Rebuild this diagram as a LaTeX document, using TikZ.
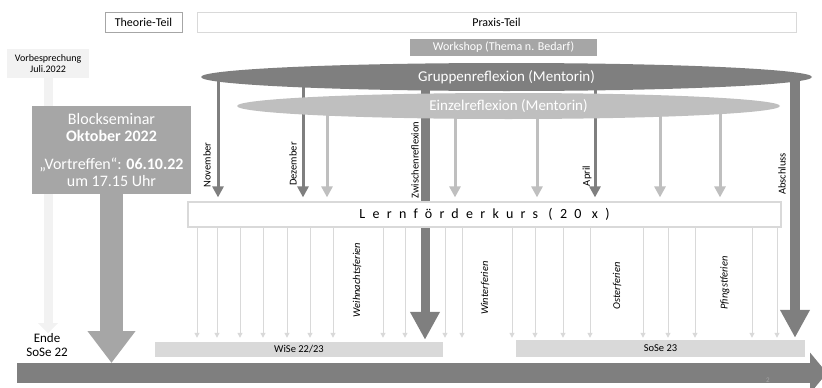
\documentclass[tikz,border=0pt]{standalone}
\usepackage{fontspec}
\setmainfont{Carlito}
\usetikzlibrary{arrows.meta,shapes.geometric,backgrounds}
\definecolor{dgrau}{HTML}{7F7F7F}
\definecolor{mgrau}{HTML}{A6A6A6}
\definecolor{lgrau}{HTML}{BFBFBF}
\definecolor{hgrau}{HTML}{D9D9D9}
\definecolor{xgrau}{HTML}{F2F2F2}
\begin{document}
\begin{tikzpicture}[x=1pt,y=-1pt,
        kasten/.style={fill=white,minimum height=20pt,inner sep=0pt,font=\fontsize{12}{12}\selectfont},
        balken/.style={fill=hgrau,inner sep=0pt,font=\fontsize{10.5}{10.5}\selectfont},
        pfeil/.style={line width=3pt,shorten >=4pt,-{Triangle[length=11pt,width=11pt]}},
        duenn/.style={draw=hgrau,line width=1pt,shorten >=4pt,-{Triangle[length=5pt,width=5pt]}},
        monat/.style={rotate=90,inner sep=0pt,font=\fontsize{10.5}{10.5}\selectfont},
        ferien/.style={monat,font=\fontsize{10.5}{10.5}\selectfont\itshape}]
    \useasboundingbox(0,0)rectangle(822,388);
    \node[kasten,draw=mgrau,minimum width=77pt](theorie)at(143.5,22){Theorie-Teil};
    \node[kasten,draw=hgrau,minimum width=599pt](praxis)at(496.5,22){Praxis-Teil};
    \node[kasten,fill=mgrau,text=white,minimum width=187pt,minimum height=17pt](workshop)at(503.5,47.5){Workshop (Thema n. Bedarf)};
    \coordinate(t0)at(17,373);
    \coordinate(t1)at(827,373);
    \draw[dgrau,line width=20pt,-{Triangle[length=17pt,width=40pt]}](t0)--(t1);
    \node[balken,minimum width=288pt,minimum height=15pt](wise)at(299,349.5){WiSe 22/23};
    \node[balken,minimum width=289pt,minimum height=17pt](sose)at(660.5,348.5){SoSe 23};
    \node[fill=xgrau,minimum width=82pt,minimum height=29pt,align=center,inner sep=0pt,font=\fontsize{10}{11}\selectfont](vorb)at(48,63.5){Vorbesprechung\\Juli.2022};
    \node[align=center,inner sep=0pt,font=\fontsize{13}{14}\selectfont](ende)at(47,345){Ende\\SoSe 22};
    \draw[xgrau,line width=9pt,-{Triangle[length=10pt,width=19pt]}](vorb.south)--(vorb.south|-ende.north);
    \node[fill=mgrau,text=white,minimum width=159pt,minimum height=88pt,align=center,inner sep=0pt,font=\fontsize{16}{17}\selectfont](block)at(111.5,150)
        {Blockseminar\\\textbf{Oktober 2022}\\[11pt]„Vortreffen“: \textbf{06.10.22}\\um 17.15 Uhr};
    \draw[mgrau,line width=23pt,shorten >=10pt,-{Triangle[length=32pt,width=46pt]}](block.south)--(block.south|-t0);
    \node[ellipse,fill=dgrau,text=white,minimum width=611pt,minimum height=28pt,inner sep=0pt,font=\fontsize{15}{15}\selectfont](gruppe)at(506.5,77){Gruppenreflexion (Mentorin)};
    \node[ellipse,fill=lgrau,text=white,minimum width=543pt,minimum height=26pt,inner sep=0pt,font=\fontsize{15}{15}\selectfont](einzel)at(508.5,106){Einzelreflexion (Mentorin)};
    \node[draw=hgrau,fill=white,line width=1.2pt,minimum width=593pt,minimum height=25pt,inner sep=0pt,font=\fontsize{14}{14}\selectfont\addfontfeatures{LetterSpace=52}](lfk)at(484.5,214.5){Lernförderkurs (20 x)};
    \begin{scope}[on background layer]
        \foreach\x in{218,303,595}
            \draw[pfeil,dgrau](\x,0|-gruppe.center)--(\x,0|-lfk.north);
        \foreach\x in{327,455,537,660,720}
            \draw[pfeil,lgrau](\x,0|-einzel.center)--(\x,0|-lfk.north);
        \draw[dgrau,line width=9pt,shorten >=2pt,-{Triangle[length=28pt,width=28pt]}](425,0|-gruppe.center)--(425,0|-wise.north);
        \draw[dgrau,line width=10pt,shorten >=2pt,-{Triangle[length=28pt,width=28pt]}](795,0|-gruppe.center)--(795,0|-sose.north);
    \end{scope}
    \foreach\x in{197,217,240,263,287,310,333,383,405,445,462,512,535,563,590,643,668,695,752,777}
        \draw[duenn](\x,0|-lfk.south)--(\x,0|-wise.north);
    \node[monat](nov)at(207,165){November};
    \node[monat](dez)at(293,164){Dezember};
    \node[monat](zwi)at(415,160){Zwischenreflexion};
    \node[monat](apr)at(587,176){April};
    \node[monat](abs)at(782,174){Abschluss};
    \node[ferien](weih)at(357,280){Weihnachtsferien};
    \node[ferien](winter)at(485,288){Winterferien};
    \node[ferien](ostern)at(617,286){Osterferien};
    \node[ferien](pfingst)at(725,283){Pfingstferien};
    \node[text=mgrau,inner sep=0pt,font=\fontsize{7}{7}\selectfont](seite)at(768,380){2};
\end{tikzpicture}
\end{document}
